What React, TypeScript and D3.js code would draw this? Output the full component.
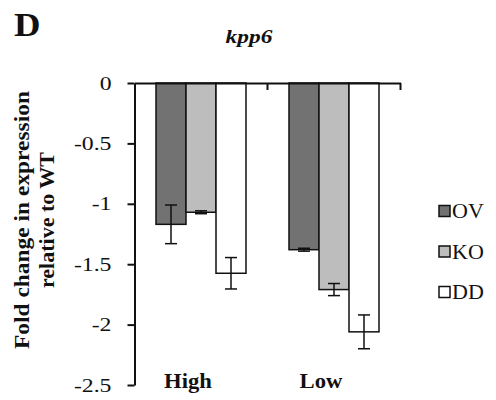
import React, { useEffect, useRef } from 'react';
import * as d3 from 'd3';

const groups = ['High', 'Low'];
const seriesNames = ['OV', 'KO', 'DD'];
const seriesColors = ['#727272', '#bdbdbd', '#ffffff'];
const meanValues = [
  [-1.17, -1.07, -1.575],
  [-1.38, -1.71, -2.06],
];
const errorValues = [
  [0.16, 0.012, 0.13],
  [0.012, 0.05, 0.14],
];
const yTicks = [0, -0.5, -1, -1.5, -2, -2.5];

const FONT = "'Liberation Serif', 'Times New Roman', serif";

export default function App() {
  const ref = useRef<SVGSVGElement>(null);

  useEffect(() => {
    const svg = d3.select(ref.current).html('');
    svg.style('font-family', FONT);

    const y = d3.scaleLinear().domain([0, -2.5]).range([83, 385]);
    const x0 = d3.scaleBand().domain(groups).range([134.5, 400.5]).paddingInner(0).paddingOuter(0);
    const groupWidth = 90;
    const x1 = d3.scaleBand().domain(seriesNames).range([0, groupWidth]);

    // bars + error bars
    groups.forEach((g, gi) => {
      const gx = x0(g)! + (x0.bandwidth() - groupWidth) / 2;
      seriesNames.forEach((s, si) => {
        const v = meanValues[gi][si];
        const bx = gx + x1(s)!;
        svg.append('rect')
          .attr('x', bx)
          .attr('y', y(0))
          .attr('width', x1.bandwidth())
          .attr('height', y(v) - y(0))
          .attr('fill', seriesColors[si])
          .attr('stroke', '#111')
          .attr('stroke-width', 1.5);
        const cx = bx + x1.bandwidth() / 2;
        const e = errorValues[gi][si];
        const eg = svg.append('g').attr('stroke', '#111').attr('stroke-width', 1.5);
        eg.append('line').attr('x1', cx).attr('x2', cx).attr('y1', y(v + e)).attr('y2', y(v - e));
        [v + e, v - e].forEach(ev => {
          eg.append('line').attr('x1', cx - 6).attr('x2', cx + 6).attr('y1', y(ev)).attr('y2', y(ev));
        });
      });
    });

    // y axis (line + ticks), labels drawn separately
    const ax = svg.append('g').attr('transform', 'translate(134.5,0)')
      .call(d3.axisLeft(y).tickValues(yTicks).tickSize(7).tickSizeOuter(0).tickFormat(() => ''));
    ax.select('.domain').attr('stroke', '#111').attr('stroke-width', 2);
    ax.selectAll('.tick line').attr('stroke', '#111').attr('stroke-width', 2);

    yTicks.forEach(t => {
      svg.append('text')
        .attr('transform', `translate(111.5,${y(t) + 6.5}) scale(1.25,1)`)
        .attr('text-anchor', 'end')
        .attr('font-size', 19)
        .attr('fill', '#111')
        .text(String(t));
    });

    // category axis along zero
    const xa = svg.append('g').attr('transform', `translate(0,${y(0)})`)
      .call(d3.axisBottom(x0).tickSize(0).tickSizeOuter(0).tickFormat(() => ''));
    xa.select('.domain').attr('stroke', '#111').attr('stroke-width', 2);
    [x0.range()[0] + x0.bandwidth(), x0.range()[1]].forEach(tx => {
      svg.append('line')
        .attr('x1', tx).attr('x2', tx).attr('y1', y(0)).attr('y2', y(0) + 7)
        .attr('stroke', '#111').attr('stroke-width', 2);
    });

    // group labels
    groups.forEach(g => {
      svg.append('text')
        .attr('transform', `translate(${x0(g)! + x0.bandwidth() / 2 - 13},388) scale(1.08,1)`)
        .attr('text-anchor', 'middle')
        .attr('font-size', 21)
        .attr('font-weight', 'bold')
        .attr('fill', '#111')
        .text(g);
    });

    // title & panel letter
    svg.append('text')
      .attr('transform', 'translate(249,43) scale(1.3,1)')
      .attr('text-anchor', 'middle')
      .attr('font-size', 18)
      .attr('font-weight', 'bold')
      .attr('font-style', 'italic')
      .attr('fill', '#111')
      .text('kpp6');
    svg.append('text')
      .attr('transform', 'translate(14,36) scale(1.08,1)')
      .attr('font-size', 34)
      .attr('font-weight', 'bold')
      .attr('fill', '#111')
      .text('D');

    // y label
    const yl = svg.append('text')
      .attr('transform', 'translate(0,220) rotate(-90)')
      .attr('text-anchor', 'middle')
      .attr('font-size', 20)
      .attr('font-weight', 'bold')
      .attr('fill', '#111');
    yl.append('tspan').attr('x', 0).attr('y', 29)
      .attr('textLength', 258).attr('lengthAdjust', 'spacingAndGlyphs')
      .text('Fold change in expression');
    yl.append('tspan').attr('x', 0).attr('y', 54)
      .attr('textLength', 136).attr('lengthAdjust', 'spacingAndGlyphs')
      .text('relative to WT');

    // legend
    seriesNames.forEach((s, i) => {
      const ly = 211 + i * 40.5;
      svg.append('rect')
        .attr('x', 439).attr('y', ly - 5.5).attr('width', 11).attr('height', 11)
        .attr('fill', seriesColors[i]).attr('stroke', '#111').attr('stroke-width', 1.5);
      svg.append('text')
        .attr('transform', `translate(452,${ly + 7}) scale(1.1,1)`)
        .attr('font-size', 20)
        .attr('fill', '#111')
        .text(s);
    });
  }, []);

  return (
    <svg ref={ref} width={496} height={400}
      style={{ position: 'absolute', left: 0, top: 0, background: '#fff' }} />
  );
}
